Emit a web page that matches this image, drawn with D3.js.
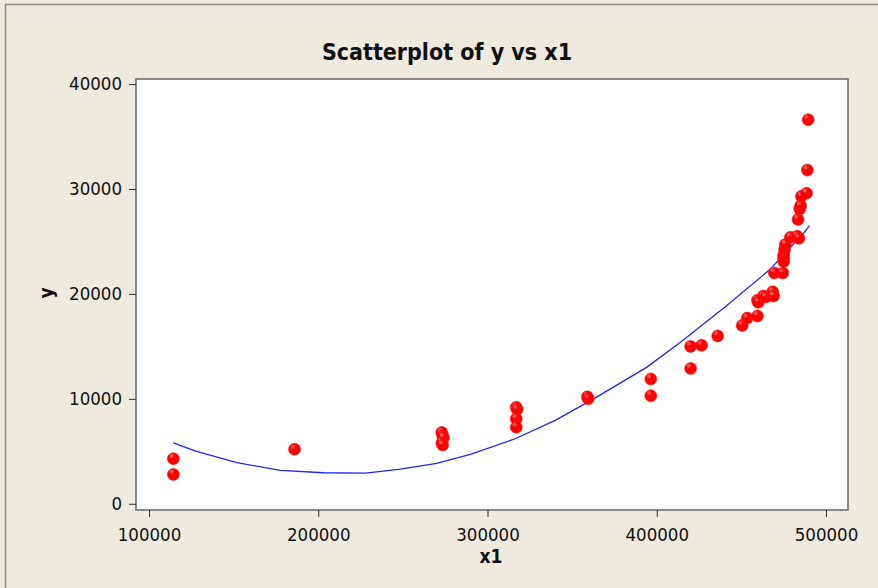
<!DOCTYPE html>
<html>
<head>
<meta charset="utf-8">
<script src="https://cdn.jsdelivr.net/npm/d3@7"></script>
<style>
  body { margin: 0; background: #eeeae0; }
  svg { display: block; }
  .tick text { font-family: "DejaVu Sans Condensed", "DejaVu Sans", sans-serif; font-stretch: condensed; font-size: 18.5px; fill: #111; }
  .lbl { font-family: "DejaVu Sans Condensed", "DejaVu Sans", sans-serif; font-stretch: condensed; font-weight: bold; fill: #111; }
</style>
</head>
<body>
<svg id="chart"></svg>
<script>
// scatter data
const x1Values = [
    114400, 114400, 186000,
    273000, 273500, 274000, 273000, 273500,
    317000, 317500, 317000, 317000,
    359000, 359500, 396500, 396500,
    420000, 420000, 426500, 436000,
    450500, 453500, 459500, 459500, 460000, 463000, 464500,
    468500, 469000, 469500, 474500, 475000, 475000, 475000, 475500, 476000,
    479000, 483000, 484000, 483500, 484500, 485000, 485500, 488500, 489000, 489500
];
const yValues = [
    4300, 2800, 5200,
    6800, 6500, 6300, 5800, 5600,
    9200, 9000, 8100, 7300,
    10200, 10000, 11900, 10300,
    15000, 12900, 15100, 16000,
    17000, 17700, 17900, 19400, 19200, 19800, 19700,
    20200, 19800, 22000, 22000, 23100, 23400, 23700, 24200, 24700,
    25400, 25500, 25300, 27100, 28100, 28400, 29300, 29600, 31800, 36600
];

// fitted curve vertices
const fitX = [114400, 128000, 152000, 177600, 203000, 228000, 248500, 270000, 289800,
    316400, 340000, 362700, 394000, 414000, 440500, 467000, 486800, 490300];
const fitY = [5800, 5000, 3920, 3180, 2960, 2930, 3300, 3850, 4710,
    6200, 7950, 10000, 13000, 15400, 18770, 22340, 25800, 26500];

const xTicks = [100000, 200000, 300000, 400000, 500000];
const yTicks = [0, 10000, 20000, 30000, 40000];

const width = 878;
const height = 588;
const frame = { left: 136, top: 79, right: 848, bottom: 510 };

const svg = d3.select('#chart')
    .attr('width', width)
    .attr('height', height);

// outer panel
svg.append('rect')
    .attr('x', 5.5).attr('y', 4.5)
    .attr('width', width + 10).attr('height', height + 10)
    .attr('fill', '#eeeae0')
    .attr('stroke', '#8a8a8a')
    .attr('stroke-width', 1.5);

const x = d3.scaleLinear()
    .domain([92300, 513000])
    .range([frame.left, frame.right]);
const y = d3.scaleLinear()
    .domain([-590, 40480])
    .range([frame.bottom, frame.top]);

// plot area
svg.append('rect')
    .attr('x', frame.left).attr('y', frame.top)
    .attr('width', frame.right - frame.left)
    .attr('height', frame.bottom - frame.top)
    .attr('fill', '#fff')
    .attr('stroke', '#666')
    .attr('stroke-width', 1.5);

const xAxis = svg.append('g')
    .attr('transform', `translate(0,${ frame.bottom })`)
    .call(d3.axisBottom(x).tickValues(xTicks).tickFormat(d3.format('d')).tickSize(7).tickPadding(7));
const yAxis = svg.append('g')
    .attr('transform', `translate(${ frame.left },0)`)
    .call(d3.axisLeft(y).tickValues(yTicks).tickFormat(d3.format('d')).tickSize(7).tickPadding(7));
for (const ax of [xAxis, yAxis]) {
    ax.select('.domain').remove();
    ax.selectAll('.tick line').attr('stroke', '#333');
}
xAxis.selectAll('.tick text').attr('dy', '0.9em');

// fitted line
svg.append('path')
    .datum(fitX.map((d, i) => [d, fitY[i]]))
    .attr('fill', 'none')
    .attr('stroke', '#2323f0')
    .attr('stroke-width', 1.3)
    .attr('d', d3.line().x(d => x(d[0])).y(d => y(d[1])));

// markers
const pts = svg.append('g')
    .selectAll('g')
    .data(x1Values.map((d, i) => ({ x1: d, y: yValues[i] })))
    .join('g')
    .attr('transform', d => `translate(${ x(d.x1) },${ y(d.y) })`);
pts.append('circle')
    .attr('r', 6)
    .attr('fill', '#ff0000')
    .attr('stroke', '#f02020')
    .attr('stroke-width', 0.6);
pts.append('circle')
    .attr('cx', -1.8).attr('cy', -2.6)
    .attr('r', 2)
    .attr('fill', '#ff7070')
    .attr('opacity', 0.7);

// titles
svg.append('text')
    .attr('class', 'lbl')
    .attr('x', 447).attr('y', 60)
    .attr('text-anchor', 'middle')
    .style('font-size', '23px')
    .text('Scatterplot of y vs x1');
svg.append('text')
    .attr('class', 'lbl')
    .attr('x', 491).attr('y', 563)
    .attr('text-anchor', 'middle')
    .style('font-size', '19px')
    .text('x1');
svg.append('text')
    .attr('class', 'lbl')
    .attr('transform', 'translate(53,293) rotate(-90)')
    .attr('text-anchor', 'middle')
    .style('font-size', '19px')
    .text('y');
</script>
</body>
</html>
